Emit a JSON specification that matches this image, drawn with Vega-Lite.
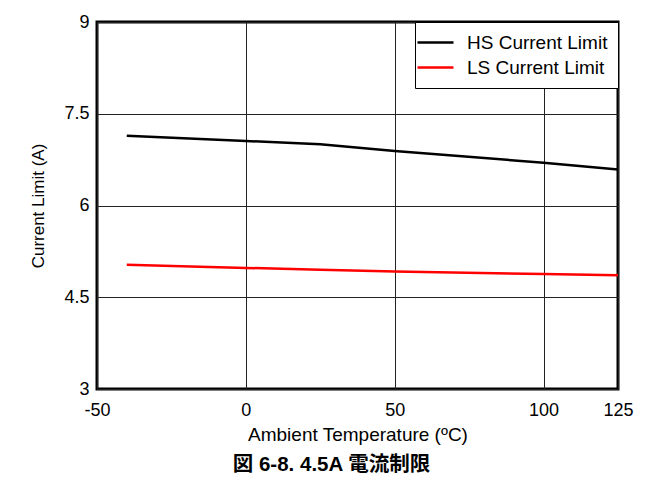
{
  "$schema": "https://vega.github.io/schema/vega-lite/v6.json",
  "autosize": "none",
  "width": 521,
  "height": 367,
  "padding": {"left": 97, "top": 22, "right": 45, "bottom": 93},
  "background": "white",
  "config": {
    "font": "Arial",
    "view": {"stroke": "black", "strokeWidth": 3},
    "axis": {"gridColor": "#222", "gridWidth": 1, "gridOpacity": 1, "domain": false, "ticks": false, "labelColor": "black", "titleColor": "black", "labelFontSize": 18, "titleFontSize": 17, "titleFontWeight": "normal", "labelFont": "Arial", "titleFont": "Arial"}
  },
  "title": {"text": "図 6-8. 4.5A 電流制限", "orient": "bottom", "anchor": "middle", "frame": "bounds", "font": "Arial, 'Noto Sans CJK JP'", "fontSize": 20.5, "fontWeight": "bold", "color": "black", "offset": 11},
  "data": {"values": [
    {"temp": -40, "current": 7.14, "series": "HS Current Limit"},
    {"temp": 0, "current": 7.055, "series": "HS Current Limit"},
    {"temp": 25, "current": 7.0, "series": "HS Current Limit"},
    {"temp": 50, "current": 6.89, "series": "HS Current Limit"},
    {"temp": 100, "current": 6.70, "series": "HS Current Limit"},
    {"temp": 125, "current": 6.59, "series": "HS Current Limit"},
    {"temp": -40, "current": 5.03, "series": "LS Current Limit"},
    {"temp": 0, "current": 4.98, "series": "LS Current Limit"},
    {"temp": 25, "current": 4.95, "series": "LS Current Limit"},
    {"temp": 50, "current": 4.92, "series": "LS Current Limit"},
    {"temp": 100, "current": 4.88, "series": "LS Current Limit"},
    {"temp": 125, "current": 4.86, "series": "LS Current Limit"}
  ]},
  "mark": {"type": "line", "strokeWidth": 2.5},
  "encoding": {
    "x": {"field": "temp", "type": "quantitative", "scale": {"domain": [-50, 125], "nice": false, "zero": false},
      "axis": {"values": [-50, 0, 50, 100, 125], "labelExpr": "'' + datum.value", "title": "Ambient Temperature (ºC)", "titleFontSize": 19, "labelPadding": 12, "titlePadding": 6, "labelFlush": false}},
    "y": {"field": "current", "type": "quantitative", "scale": {"domain": [3, 9], "nice": false, "zero": false},
      "axis": {"values": [3, 4.5, 6, 7.5, 9], "labelExpr": "'' + datum.value", "title": "Current Limit (A)", "labelPadding": 8, "titlePadding": 16}},
    "color": {"field": "series", "type": "nominal", "scale": {"domain": ["HS Current Limit", "LS Current Limit"], "range": ["black", "#ff0000"]},
      "legend": {"title": null, "orient": "top-right", "offset": 0, "strokeColor": "black", "fillColor": "white", "padding": 10, "symbolType": "M-2,0H2", "symbolSize": 324, "symbolStrokeWidth": 2.5, "labelFontSize": 19, "labelColor": "black", "labelFont": "Arial", "labelOffset": 21, "rowPadding": 4}}
  }
}
